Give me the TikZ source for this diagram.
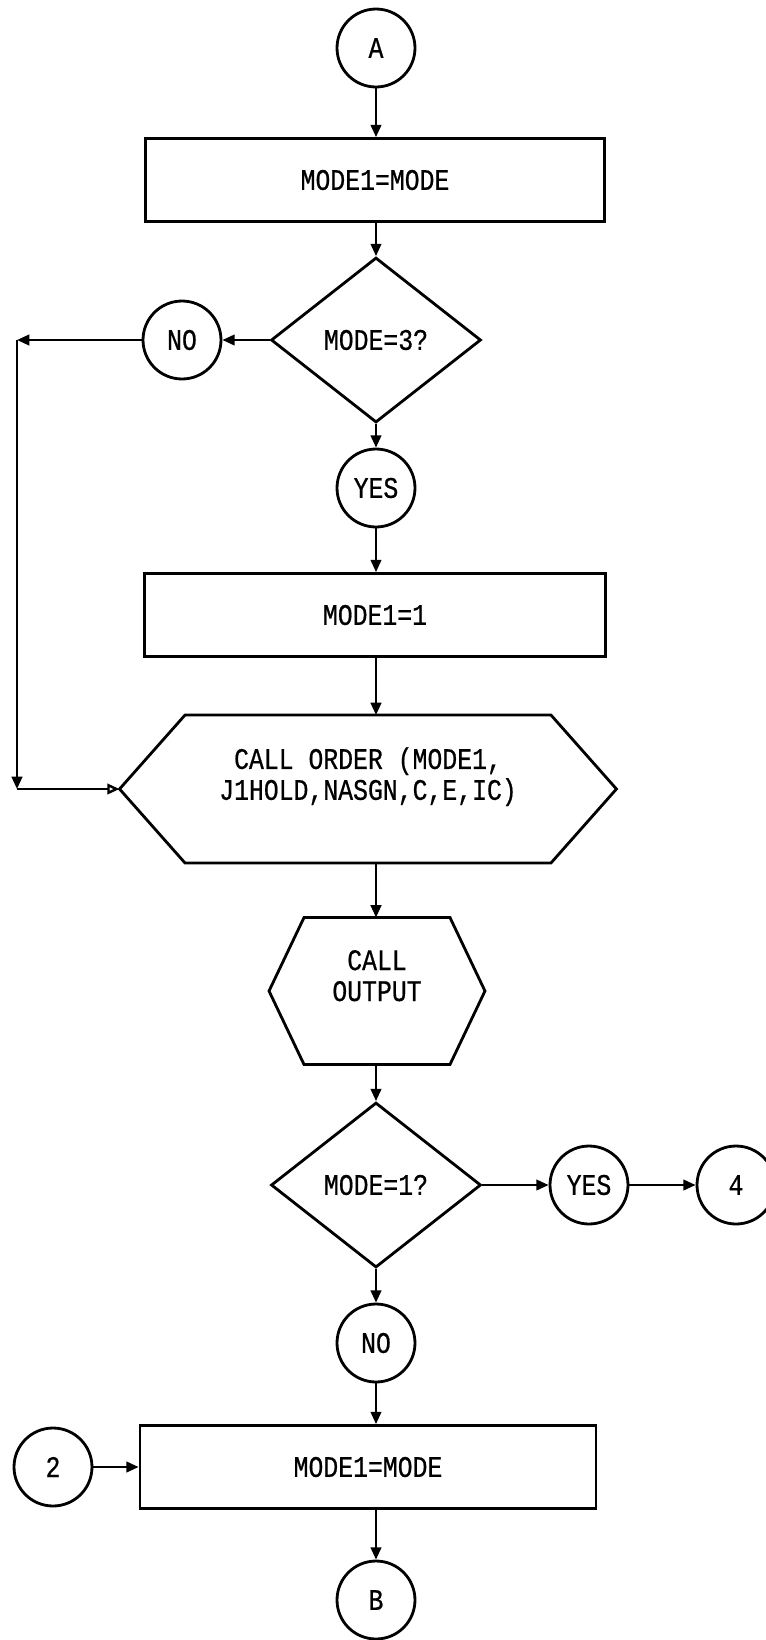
\documentclass[tikz,border=0pt]{standalone}
\usepackage{fontspec}
\setmonofont[FakeStretch=0.83,FakeBold=0.6]{Liberation Mono}
\usetikzlibrary{shapes.geometric,arrows.meta}

% outline of a hexagon round a plain node
\newcommand\hexout[2]{%
  \draw[hexline] (#1.west) -- ([xshift=#2]#1.north west) -- ([xshift=-#2]#1.north east)
    -- (#1.east) -- ([xshift=-#2]#1.south east) -- ([xshift=#2]#1.south west) -- cycle;}

\begin{document}
\begin{tikzpicture}[x=0.02cm,y=-0.02cm,
  every node/.style={font=\ttfamily\fontsize{17}{17.6}\selectfont},
  conn/.style={draw,circle,line width=1.6pt,minimum size=1.56cm,inner sep=0pt},
  proc/.style={draw,rectangle,line width=1.6pt,minimum height=1.66cm,inner sep=0pt},
  test/.style={draw,diamond,line width=1.6pt,minimum width=4.2cm,minimum height=3.3cm,inner sep=0pt},
  hexa/.style={rectangle,align=center,inner sep=0pt,outer sep=0pt},
  hexline/.style={line width=1.6pt,line join=miter},
  flow/.style={line width=1.4pt,-{Triangle[length=7pt,width=6pt]}},
  oflow/.style={line width=1.4pt,-{Triangle[open,length=7pt,width=6pt]}}]
\useasboundingbox (0,0) rectangle (765,1640);

\node[conn] (A) at (376,48) {A};
\node[proc,minimum width=9.18cm] (set1) at (375,180) {MODE1=MODE};
\node[test] (q3) at (376,340) {MODE=3?};
\node[conn] (no1) at (182,340) {NO};
\node[conn] (yes1) at (376,488) {YES};
\node[proc,minimum width=9.22cm] (set2) at (375,615) {MODE1=1};
\node[hexa,minimum width=9.94cm,minimum height=2.96cm] (order) at (368,789)
  {CALL ORDER (MODE1,\\J1HOLD,NASGN,C,E,IC)\\\mbox{}};
\hexout{order}{1.31cm}
\node[hexa,minimum width=4.32cm,minimum height=2.94cm] (output) at (377,991)
  {CALL\\OUTPUT\\\mbox{}};
\hexout{output}{0.7cm}
\node[test] (q1) at (376,1185) {MODE=1?};
\node[conn] (yes2) at (589,1185) {YES};
\node[conn] (four) at (736,1185) {4};
\node[conn] (no2) at (376,1343) {NO};
\node[proc,minimum width=9.12cm] (set3) at (368,1467) {MODE1=MODE};
\node[conn] (two) at (53,1467) {2};
\node[conn] (B) at (376,1600) {B};

\coordinate (up) at (17,340);
\coordinate (dn) at (up |- order.west);

\draw[flow] (A.south) -- (A.south |- set1.north);
\draw[flow] (q3.north |- set1.south) -- (q3.north);
\draw[flow] (q3.west) -- (no1.east);
\draw[flow] (no1.west) -- (up);
\draw[flow] (up) -- (dn);
\draw[oflow] (dn) -- (order.west);
\draw[flow] (q3.south) -- (yes1.north);
\draw[flow] (yes1.south) -- (yes1.south |- set2.north);
\draw[flow] (yes1.south |- set2.south) -- (yes1.south |- order.north);
\draw[flow] (yes1.south |- order.south) -- (yes1.south |- output.north);
\draw[flow] (q1.north |- output.south) -- (q1.north);
\draw[flow] (q1.east) -- (yes2.west);
\draw[flow] (yes2.east) -- (four.west);
\draw[flow] (q1.south) -- (no2.north);
\draw[flow] (no2.south) -- (no2.south |- set3.north);
\draw[flow] (two.east) -- (set3.west);
\draw[flow] (B.north |- set3.south) -- (B.north);
\end{tikzpicture}
\end{document}
